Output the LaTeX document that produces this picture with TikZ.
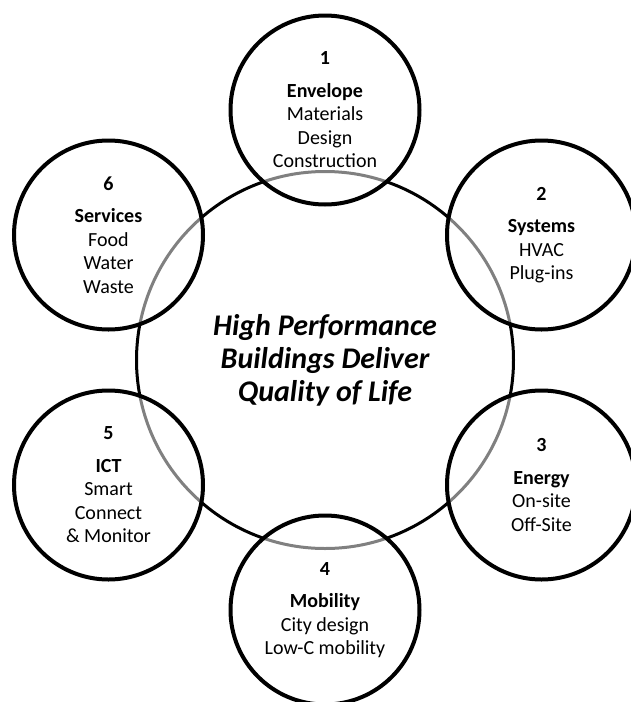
\documentclass[tikz,border=0pt]{standalone}
\usepackage{fontspec}
\setmainfont{Carlito}
\begin{document}
\begin{tikzpicture}[x=1pt,y=-1pt,
  hub/.style={circle,draw=black,line width=3pt,minimum size=377pt,inner sep=0pt,
    align=center,font=\bfseries\itshape\fontsize{30}{33}\selectfont},
  topic/.style={circle,draw=black,line width=4pt,fill=white,fill opacity=0.5,
    text opacity=1,minimum size=189pt,inner sep=0pt,align=center,
    font=\fontsize{20}{23.5}\selectfont}]
\useasboundingbox (0,0) rectangle (630,702);
\node[hub] (ct) at (325,360) {High Performance\\Buildings Deliver\\Quality of Life};
\node[topic] (c1) at (325,110) {\textbf{1}\\[9pt]\textbf{Envelope}\\Materials\\Design\\Construction};
\node[topic] (c2) at (541.5,235) {\textbf{2}\\[9pt]\textbf{Systems}\\HVAC\\Plug-ins};
\node[topic] (c3) at (541.5,485) {\textbf{3}\\[9pt]\textbf{Energy}\\On-site\\Off-Site};
\node[topic] (c4) at (325,610) {\textbf{4}\\[9pt]\textbf{Mobility}\\City design\\Low-C mobility};
\node[topic] (c5) at (108.5,485) {\textbf{5}\\[9pt]\textbf{ICT}\\Smart\\Connect\\\& Monitor};
\node[topic] (c6) at (108.5,235) {\textbf{6}\\[9pt]\textbf{Services}\\Food\\Water\\Waste};
\end{tikzpicture}
\end{document}
